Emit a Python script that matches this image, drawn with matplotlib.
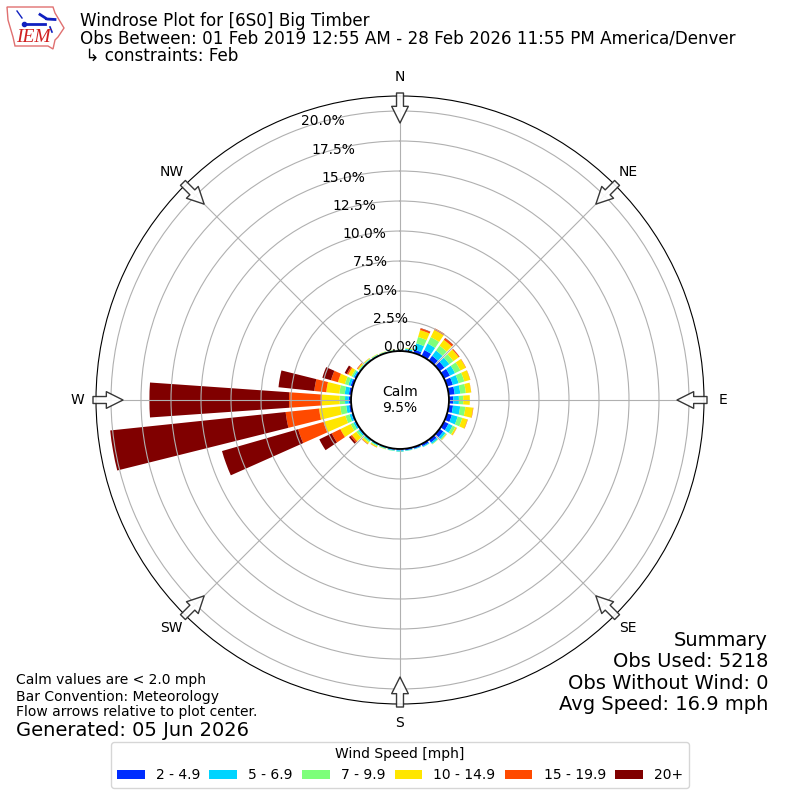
import numpy as np
import matplotlib
matplotlib.use("Agg")
import matplotlib.pyplot as plt
from matplotlib.patches import Polygon

# wind direction bins, every 10 degrees
directions = list(range(0, 360, 10))

# percent of obs per direction, one list per speed bin
speed_2_5 = [.05, .10, .28, .55, .47, .50, .55, .50, .50, .36, .36, .42,
             .42, .38, .30, .20, .14, .13, .12, .10, .06, .05, .07, .10,
             .10, .12, .18, .20, .20, .20, .15, .05, .06, .05, .04, .04]
speed_5_7 = [.05, .10, .55, .60, .55, .50, .47, .50, .47, .47, .60, .50,
             .38, .22, .14, .08, .05, .05, .10, .07, .07, .10, .12, .12,
             .15, .18, .25, .30, .35, .20, .12, .07, .07, .06, .05, .05]
speed_7_10 = [.01, .06, .55, .60, .50, .42, .50, .50, .47, .36, .44, .40,
              .25, .10, .05, .02, .01, .02, .03, .03, .05, .08, .12, .20,
              .25, .35, .50, .45, .45, .30, .15, .08, .06, .05, .04, .04]
speed_10_15 = [.01, .04, .60, .67, .60, .55, .50, .50, .44, .55, .64, .45,
               .13, .04, .01, 0, 0, 0, 0, 0, .02, .08, .14, .45,
               .95, 1.90, 1.77, 1.50, 1.10, .60, .30, .10, .05, .03, .02, .02]
speed_15_20 = [0, 0, .14, .14, .17, .08, .03, .02, .01, 0, .03, .03,
               .02, .01, 0, 0, 0, 0, 0, 0, 0, .02, .03, .15,
               .80, 2.20, 2.80, 2.72, 1.00, .60, .13, .05, .01, 0, 0, 0]
speed_20_up = [0, 0, .03, 0, .03, .01, 0, 0, 0, 0, 0, 0,
               0, 0, 0, 0, 0, 0, 0, 0, 0, 0, .01, .15,
               1.15, 6.60, 14.70, 11.63, 3.00, .75, .20, .01, 0, 0, 0, 0]

speed_bins = [speed_2_5, speed_5_7, speed_7_10, speed_10_15, speed_15_20, speed_20_up]
speed_labels = ["2 - 4.9", "5 - 6.9", "7 - 9.9", "10 - 14.9", "15 - 19.9", "20+"]
speed_colors = ["#002dff", "#00d4ff", "#7dff7a", "#ffe600", "#ff4a00", "#800000"]

r_ticks = [0, 2.5, 5, 7.5, 10, 12.5, 15, 17.5, 20]
compass_angles = [0, 45, 90, 135, 180, 225, 270, 315]
compass_labels = ["N", "NE", "E", "SE", "S", "SW", "W", "NW"]

fig = plt.figure(figsize=(8, 8), dpi=100)
ax = fig.add_axes([0.12, 0.12, 0.76, 0.76], projection="polar")
ax.set_theta_zero_location("N")
ax.set_theta_direction(-1)
ax.set_rorigin(-4.08)
ax.set_rlim(0, 21.25)

# stacked bars, one ring segment per speed bin
theta = np.deg2rad(directions)
bottom = np.zeros(len(directions))
for vals, label, color in zip(speed_bins, speed_labels, speed_colors):
    ax.bar(theta, vals, width=np.deg2rad(8), bottom=bottom, color=color,
           label=label, linewidth=0)
    bottom += np.array(vals)

ax.set_rticks(r_ticks)
ax.set_yticklabels([f"{v:.1f}%" for v in r_ticks], fontsize=10)
ax.set_rlabel_position(-20)
ax.set_thetagrids(compass_angles, compass_labels, fontsize=10)
ax.tick_params(axis="x", pad=3)
ax.grid(True, color="#b0b0b0", linewidth=0.8)
ax.spines["inner"].set_linewidth(1.3)

# flow arrows, pointing at plot center
for ang in compass_angles:
    ax.annotate("", xy=(np.deg2rad(ang), 19.0), xytext=(np.deg2rad(ang), 21.5),
                annotation_clip=False,
                arrowprops=dict(facecolor="white", edgecolor="#222222", linewidth=1,
                                width=5, headwidth=12, headlength=12, alpha=0.9))

ax.text(0.5, 0.5, "Calm\n9.5%", transform=ax.transAxes, ha="center", va="center", fontsize=10)

handles, labels = ax.get_legend_handles_labels()
fig.legend(handles, labels, title="Wind Speed [mph]", ncol=6, loc="center",
           bbox_to_anchor=(0.5, 0.0438), fontsize=10, title_fontsize=10,
           columnspacing=0.66)

# header
fig.text(0.1, 0.974, "Windrose Plot for [6S0] Big Timber", fontsize=12.05, va="center")
fig.text(0.1, 0.952, "Obs Between: 01 Feb 2019 12:55 AM - 28 Feb 2026 11:55 PM America/Denver",
         fontsize=12.05, va="center")
fig.text(0.1, 0.930, " \u21b3 constraints: Feb", fontsize=12.05, va="center")

# footer left
fig.text(0.02, 0.15, "Calm values are < 2.0 mph", fontsize=10, va="center")
fig.text(0.02, 0.129, "Bar Convention: Meteorology", fontsize=10, va="center")
fig.text(0.02, 0.11, "Flow arrows relative to plot center.", fontsize=10, va="center")
fig.text(0.02, 0.0875, "Generated: 05 Jun 2026", fontsize=14, va="center")

# footer right
fig.text(0.96, 0.2, "Summary", fontsize=14, ha="right", va="center")
fig.text(0.96, 0.173, "Obs Used: 5218", fontsize=14, ha="right", va="center")
fig.text(0.96, 0.146, "Obs Without Wind: 0", fontsize=14, ha="right", va="center")
fig.text(0.96, 0.119, "Avg Speed: 16.9 mph", fontsize=14, ha="right", va="center")

# IEM logo, drawn in pixels of the top left corner
logo = fig.add_axes([0, 0.94, 0.08, 0.06])
logo.set_xlim(0, 64)
logo.set_ylim(48, 0)
logo.axis("off")
outline = [(7, 7), (53, 7), (55, 13), (58, 18), (64, 28), (58, 37), (55, 40),
           (53, 49), (48, 46), (15, 46), (13, 37), (8, 20)]
logo.add_patch(Polygon(outline, closed=True, fill=False, edgecolor="#e07070", linewidth=1, clip_on=False))
logo.plot([26, 45], [23.5, 23.5], color="#1020c0", linewidth=2)
logo.plot([40, 47, 55], [14.5, 19, 19.5], color="#1020c0", linewidth=2)
logo.plot([45, 54], [19, 19], color="#1020c0", linewidth=0.8)
logo.plot([50, 52], [27, 32], color="#1020c0", linewidth=1.2)
logo.plot([17, 22], [11, 18], color="#1020c0", linewidth=1)
logo.plot([24], [23.5], "o", color="#1020c0", markersize=3)
logo.text(16, 38, "IEM", family="Liberation Serif", style="italic", color="#d02020", fontsize=14, va="center")

fig.savefig("out.png", dpi=100)
